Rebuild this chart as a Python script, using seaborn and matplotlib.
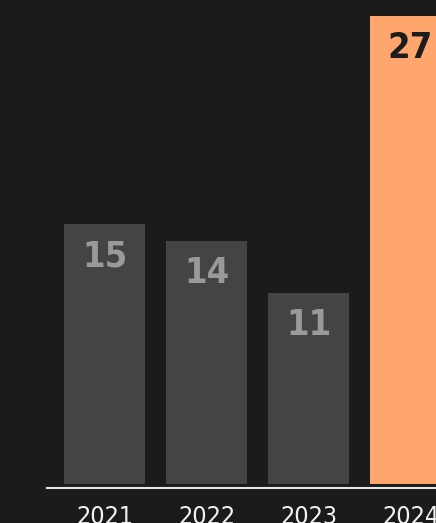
import pandas as pd
import seaborn as sns
import matplotlib.pyplot as plt

years = ["2021", "2022", "2023", "2024"]
counts = [15, 14, 11, 27]
bar_colors = ["#444444", "#444444", "#444444", "#FFA66E"]
label_colors = ["#9a9a9a", "#9a9a9a", "#9a9a9a", "#1c1c1c"]

sns.set_style("dark")
plt.rcParams['font.family'] = ['DejaVu Sans']
plt.rcParams['font.stretch'] = 'condensed'

data = pd.DataFrame({"year": years, "count": counts})

fig = plt.figure(figsize=(4.36, 5.23), dpi=100, facecolor="#1b1b1b")
ax = fig.add_axes([47 / 436, 35 / 523, 1 - 47 / 436, 488 / 523])
ax.set_facecolor("#1b1b1b")

sns.barplot(data=data, x="year", y="count", hue="year", palette=bar_colors,
            legend=False, width=0.8, saturation=1, linewidth=0, ax=ax)

for i, (v, c) in enumerate(zip(counts, label_colors)):
    ax.annotate(str(v), (i, v), xytext=(0, -23), textcoords="offset points",
                ha="center", va="center", fontsize=26, fontweight="bold",
                fontstretch="condensed", color=c)

ax.set_xlim(-0.564, 3.25)
ax.set_ylim(-0.23, 27.93)
ax.set(xlabel="", ylabel="", yticks=[])
ax.grid(False)
for s in ["top", "right", "left"]:
    ax.spines[s].set_visible(False)
ax.spines["bottom"].set_color("#e6e6e6")
ax.spines["bottom"].set_linewidth(1.5)
ax.tick_params(axis="x", length=0, pad=12, labelsize=18, labelcolor="#f2f2f2")
for t in ax.get_xticklabels():
    t.set_fontstretch("condensed")

fig.savefig("out.png", dpi=100, facecolor="#1b1b1b")
